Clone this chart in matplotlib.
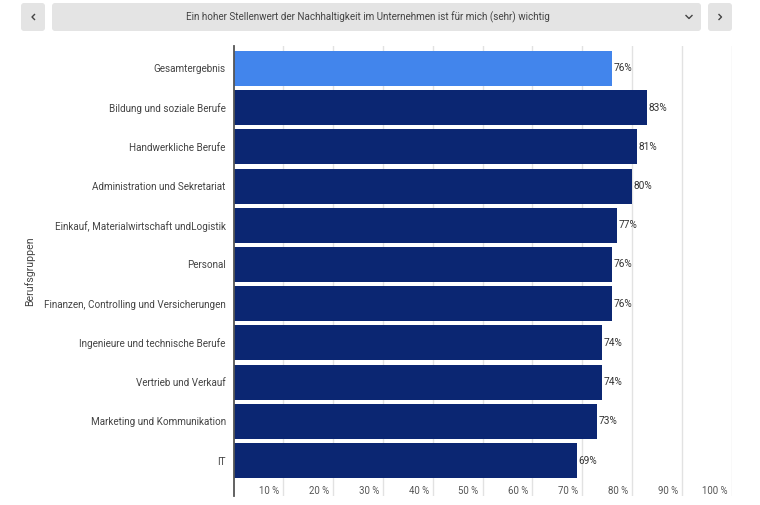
import matplotlib
matplotlib.use("Agg")
import matplotlib.pyplot as plt
from matplotlib.patches import FancyBboxPatch
from matplotlib.transforms import ScaledTranslation

plt.rcParams["font.family"] = ["Roboto", "DejaVu Sans"]

title = "Ein hoher Stellenwert der Nachhaltigkeit im Unternehmen ist für mich (sehr) wichtig"
categories = [
    "Gesamtergebnis",
    "Bildung und soziale Berufe",
    "Handwerkliche Berufe",
    "Administration und Sekretariat",
    "Einkauf, Materialwirtschaft undLogistik",
    "Personal",
    "Finanzen, Controlling und Versicherungen",
    "Ingenieure und technische Berufe",
    "Vertrieb und Verkauf",
    "Marketing und Kommunikation",
    "IT",
]
values = [76, 83, 81, 80, 77, 76, 76, 74, 74, 73, 69]
ticks = [10, 20, 30, 40, 50, 60, 70, 80, 90, 100]
ylabel = "Berufsgruppen"

W, H = 760, 506
fig = plt.figure(figsize=(W / 100, H / 100), dpi=100)

# Kopfzeile mit den Buttons, in Pixelkoordinaten
top = fig.add_axes([0, 0, 1, 1])
top.set_xlim(0, W)
top.set_ylim(H, 0)
top.axis("off")


def button(x0, x1):
    top.add_patch(FancyBboxPatch((x0, 4), x1 - x0, 28, boxstyle="round,pad=0,rounding_size=3",
                                 linewidth=0, facecolor="#e4e4e4"))


button(21, 45)
button(52, 701)
button(708, 732)
top.plot([34.5, 32, 34.5], [15.5, 18, 20.5], color="#444444", linewidth=1)
top.plot([719, 721.5, 719], [15.5, 18, 20.5], color="#444444", linewidth=1)
top.plot([686, 689, 692], [16.5, 19.5, 16.5], color="#444444", linewidth=1)
top.text(367.5, 17, title, ha="center", va="center", fontsize=7.15, color="#444444")

# Diagramm
ax = fig.add_axes([233.5 / W, 1 - 497 / H, (731.5 - 233.5) / W, (497 - 47) / H])
colors = ["#4285ec"] + ["#0b2672"] * (len(values) - 1)
pos = list(range(len(values)))
ax.set_axisbelow(True)
ax.barh(pos, values, height=0.89, color=colors, zorder=2)
ax.set_xlim(0, 100)
ax.set_ylim(10.905, -0.573)
ax.patch.set_alpha(0)

ax.set_xticks(ticks)
ax.set_xticklabels([])
ax.tick_params(axis="x", length=0)
ax.grid(axis="x", color="#e2e2e2", linewidth=1)
for t in ticks:
    ax.annotate(f"{t} %", (t, 0), xycoords=("data", "axes fraction"), xytext=(-4, 6),
                textcoords="offset pixels", ha="right", va="center", fontsize=6.9, color="#555555")

# Texte einen Pixel nach oben
up = ScaledTranslation(0, 1 / 100, fig.dpi_scale_trans)

ax.set_yticks(pos)
ax.set_yticklabels(categories, fontsize=7.15, color="#444444")
ax.tick_params(axis="y", length=0, pad=5.5)
for lab in ax.get_yticklabels():
    lab.set_transform(lab.get_transform() + up)

for s in ["top", "right", "bottom"]:
    ax.spines[s].set_visible(False)
ax.spines["left"].set_color("#555555")
ax.spines["left"].set_linewidth(1.3)

for p, v in zip(pos, values):
    ax.text(v + 0.25, p, f"{v}%", ha="left", va="center", fontsize=7.3, color="#333333", zorder=3,
            transform=ax.transData + up)

fig.text(30 / W, 1 - 271 / H, ylabel, rotation=90, ha="center", va="center", fontsize=7.6, color="#444444")

fig.savefig("out.png", dpi=100)
